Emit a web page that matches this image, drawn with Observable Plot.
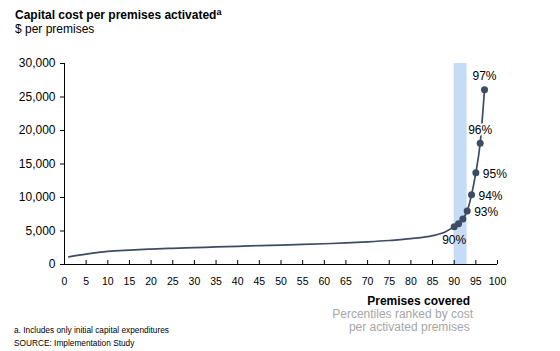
<!DOCTYPE html>
<html><head><meta charset="utf-8">
<script src="https://cdn.jsdelivr.net/npm/d3@7"></script>
<script src="https://cdn.jsdelivr.net/npm/@observablehq/plot@0.6"></script>
<style>
body{margin:0;background:#fff;font-family:"Liberation Sans",Arial,sans-serif;color:#000}
#wrap{position:relative;width:560px;height:351px;overflow:hidden}
.t{position:absolute;white-space:nowrap;line-height:1}
#chart{position:absolute;left:0;top:40px}
</style></head><body><div id="wrap">
<div class="t" style="left:15px;top:9px;font-weight:bold;font-size:12px">Capital cost per premises activated<span style="font-size:9px;position:relative;top:-4px">a</span></div>
<div class="t" style="left:15px;top:23px;font-size:12px">$ per premises</div>
<div id="chart"></div>
<div class="t" style="right:90px;top:295px;font-weight:bold;font-size:12px">Premises covered</div>
<div class="t" style="right:87px;top:308px;font-size:12px;color:#a6a6a6;text-align:right;line-height:13px">Percentiles ranked by cost<br>per activated premises&nbsp;</div>
<div class="t" style="left:14px;top:326px;font-size:8.3px">a. Includes only initial capital expenditures</div>
<div class="t" style="left:14px;top:339px;font-size:8.3px">SOURCE: Implementation Study</div>
</div>
<script>
const percentiles = [1, 5, 10, 15, 20, 25, 30, 35, 40, 45, 50, 55, 60, 65, 70, 75, 80, 85, 88, 90, 91, 92, 93, 94, 95, 96, 97];
const costs = [1150, 1550, 1950, 2150, 2300, 2420, 2520, 2620, 2720, 2820, 2900, 2990, 3100, 3220, 3380, 3580, 3850, 4300, 4900, 5650, 6100, 6800, 8000, 10400, 13700, 18100, 26100];
const markedPercentiles = [90, 91, 92, 93, 94, 95, 96, 97];
const labelAbove = [96, 97];
const labelRight = [93, 94, 95];
const labelBelow = [90];
const band = [{from: 90, to: 93}];
const xTicks = [0, 5, 10, 15, 20, 25, 30, 35, 40, 45, 50, 55, 60, 65, 70, 75, 80, 85, 90, 95, 100];
const yTicks = [0, 5000, 10000, 15000, 20000, 25000, 30000];

const data = percentiles.map((p, i) => ({p, c: costs[i]}));
const marked = data.filter(d => markedPercentiles.includes(d.p));
const lbl = d => d.p + "%";
const lineColor = "#3e4b64";

const chart = Plot.plot({
  width: 560, height: 250,
  marginTop: 23, marginBottom: 26, marginLeft: 64, marginRight: 63,
  x: {domain: [0, 100]},
  y: {domain: [0, 30000]},
  style: {fontFamily: "'Liberation Sans', Arial, sans-serif", fontSize: "12px", color: "#000", background: "transparent"},
  marks: [
    Plot.rect(band, {x1: "from", x2: "to", fill: "#c6dbf5"}),
    Plot.axisY({ticks: yTicks, tickFormat: d3.format(","), tickSize: 4, tickPadding: 5, fontSize: 12, label: null}),
    Plot.axisX({ticks: xTicks, tickFormat: d => String(d), tickSize: -4, tickPadding: 17, fontSize: 10.5, label: null}),
    Plot.ruleX([0], {stroke: "#000"}),
    Plot.ruleY([0], {stroke: "#000"}),
    Plot.line(data, {x: "p", y: "c", curve: "monotone-x", stroke: lineColor, strokeWidth: 1.7}),
    Plot.dot(marked, {x: "p", y: "c", r: 3.5, fill: lineColor}),
    Plot.text(data.filter(d => labelAbove.includes(d.p)), {x: "p", y: "c", text: lbl, dy: -13, fontSize: 12, stroke: "white", strokeWidth: 4, fill: "#000"}),
    Plot.text(data.filter(d => labelRight.includes(d.p)), {x: "p", y: "c", text: lbl, dx: 7, dy: 1, textAnchor: "start", fontSize: 12}),
    Plot.text(data.filter(d => labelBelow.includes(d.p)), {x: "p", y: "c", text: lbl, dy: 14, fontSize: 12})
  ]
});
document.getElementById("chart").appendChild(chart);
</script>
</body></html>
